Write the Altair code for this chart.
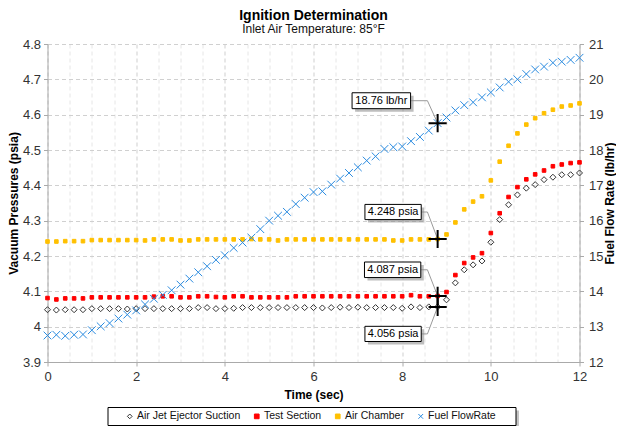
import altair as alt
import pandas as pd

# ---------------- data ----------------
time = [0.0, 0.2, 0.4, 0.6, 0.8, 1.0, 1.2, 1.4, 1.6, 1.8,
        2.0, 2.2, 2.4, 2.6, 2.8, 3.0, 3.2, 3.4, 3.6, 3.8,
        4.0, 4.2, 4.4, 4.6, 4.8, 5.0, 5.2, 5.4, 5.6, 5.8,
        6.0, 6.2, 6.4, 6.6, 6.8, 7.0, 7.2, 7.4, 7.6, 7.8,
        8.0, 8.2, 8.4, 8.6, 8.8, 9.0, 9.2, 9.4, 9.6, 9.8,
        10.0, 10.2, 10.4, 10.6, 10.8, 11.0, 11.2, 11.4, 11.6, 11.8, 12.0]

air_jet = [4.048, 4.047, 4.048, 4.048, 4.048, 4.051, 4.051, 4.051, 4.051, 4.050,
           4.051, 4.051, 4.051, 4.051, 4.051, 4.051, 4.051, 4.054, 4.054, 4.051,
           4.051, 4.052, 4.054, 4.054, 4.054, 4.054, 4.054, 4.054, 4.054, 4.054,
           4.054, 4.053, 4.054, 4.055, 4.054, 4.055, 4.054, 4.054, 4.054, 4.054,
           4.052, 4.056, 4.054, 4.056, 4.056, 4.076, 4.124, 4.161, 4.175, 4.186,
           4.239, 4.303, 4.345, 4.373, 4.392, 4.402, 4.416, 4.423, 4.430, 4.430, 4.435]

test_section = [4.081, 4.077, 4.080, 4.080, 4.080, 4.083, 4.083, 4.083, 4.083, 4.083,
                4.083, 4.083, 4.085, 4.086, 4.086, 4.083, 4.083, 4.086, 4.086, 4.084,
                4.083, 4.086, 4.086, 4.083, 4.083, 4.083, 4.083, 4.083, 4.086, 4.086,
                4.086, 4.086, 4.086, 4.086, 4.086, 4.086, 4.086, 4.086, 4.086, 4.086,
                4.086, 4.089, 4.086, 4.086, 4.087, 4.098, 4.146, 4.180, 4.196, 4.208,
                4.265, 4.321, 4.367, 4.395, 4.417, 4.431, 4.442, 4.454, 4.459, 4.463, 4.465]

air_chamber = [4.241, 4.241, 4.242, 4.242, 4.242, 4.245, 4.245, 4.245, 4.245, 4.245,
               4.245, 4.244, 4.247, 4.247, 4.247, 4.244, 4.244, 4.247, 4.247, 4.247,
               4.247, 4.247, 4.247, 4.248, 4.247, 4.247, 4.244, 4.247, 4.247, 4.247,
               4.247, 4.247, 4.247, 4.247, 4.247, 4.247, 4.247, 4.247, 4.247, 4.244,
               4.244, 4.247, 4.247, 4.247, 4.248, 4.261, 4.295, 4.332, 4.354, 4.369,
               4.414, 4.467, 4.512, 4.547, 4.572, 4.590, 4.604, 4.614, 4.623, 4.626, 4.632]

fuel_flow = [12.75, 12.77, 12.74, 12.77, 12.78, 12.90, 13.01, 13.10, 13.23, 13.34,
             13.46, 13.63, 13.79, 13.90, 14.03, 14.19, 14.36, 14.54, 14.71, 14.89,
             15.02, 15.23, 15.38, 15.52, 15.76, 16.00, 16.14, 16.25, 16.47, 16.65,
             16.81, 16.83, 17.02, 17.19, 17.35, 17.51, 17.70, 17.82, 18.03, 18.08,
             18.10, 18.25, 18.37, 18.55, 18.76, 18.92, 19.12, 19.27, 19.35, 19.49,
             19.63, 19.77, 19.93, 20.00, 20.15, 20.28, 20.36, 20.47, 20.50, 20.55, 20.61]

series_names = ["Air Jet Ejector Suction", "Test Section", "Air Chamber", "Fuel FlowRate"]

# callouts on the pressure axis
psi_labels = ["4.248 psia", "4.087 psia", "4.056 psia"]
psi_target_x = [8.8, 8.8, 8.8]
psi_target_y = [4.248, 4.087, 4.056]
psi_box_x0 = [7.16, 7.15, 7.16]
psi_box_x1 = [8.43, 8.42, 8.43]
psi_box_top = [4.346, 4.183, 4.001]
psi_box_bot = [4.303, 4.139, 3.958]

# callout on the fuel axis
fuel_labels = ["18.76 lb/hr"]
fuel_target_x = [8.8]
fuel_target_y = [18.76]
fuel_box_x0 = [6.87]
fuel_box_x1 = [8.19]
fuel_box_top = [19.62]
fuel_box_bot = [19.17]
leader_bend_x = 8.57

x_ticks = [0, 0.5, 1, 1.5, 2, 2.5, 3, 3.5, 4, 4.5, 5, 5.5, 6, 6.5, 7, 7.5, 8, 8.5, 9, 9.5, 10, 10.5, 11, 11.5, 12]
left_ticks = [3.9, 4.0, 4.1, 4.2, 4.3, 4.4, 4.5, 4.6, 4.7, 4.8]
right_ticks = [12, 13, 14, 15, 16, 17, 18, 19, 20, 21]

# ---------------- tables ----------------
series_values = [air_jet, test_section, air_chamber, fuel_flow]
frames = [pd.DataFrame({"time": time, "value": v, "series": n})
          for n, v in zip(series_names, series_values)]


def callout_tables(labels, tx, ty, bx0, bx1, btop, bbot):
    boxes = pd.DataFrame({"label": labels, "x0": bx0, "x1": bx1, "top": btop, "bot": bbot,
                          "tx": tx, "ty": ty})
    boxes["cx"] = (boxes["x0"] + boxes["x1"]) / 2
    boxes["cy"] = (boxes["top"] + boxes["bot"]) / 2
    rows = []
    for i, r in boxes.iterrows():
        rows.append({"id": i, "o": 0, "x": r["x1"], "y": r["cy"]})
        rows.append({"id": i, "o": 1, "x": leader_bend_x, "y": r["cy"]})
        rows.append({"id": i, "o": 2, "x": r["tx"], "y": r["ty"]})
    return boxes, pd.DataFrame(rows)


psi_boxes, psi_lines = callout_tables(psi_labels, psi_target_x, psi_target_y,
                                      psi_box_x0, psi_box_x1, psi_box_top, psi_box_bot)
fuel_boxes, fuel_lines = callout_tables(fuel_labels, fuel_target_x, fuel_target_y,
                                        fuel_box_x0, fuel_box_x1, fuel_box_top, fuel_box_bot)

# ---------------- scales / axes ----------------
FONT = "Liberation Sans"
x_scale = alt.Scale(domain=[0, 12], nice=False, zero=False)
x_axis = alt.Axis(
    values=x_ticks, format="~g", labelExpr="datum.value % 2 == 0 ? datum.label : ''",
    title="Time (sec)", titleFontSize=12, titleFontWeight="bold", titleColor="#000",
    titlePadding=6, labelFontSize=13, labelColor="#333", labelPadding=4,
    labelFlush=False, labelOverlap=False, tickSize=4,
    tickColor={"condition": {"test": "datum.value % 2 == 0", "value": "#aaaaaa"}, "value": "transparent"},
    grid=True, gridDash=[4, 3],
    gridColor={"condition": {"test": "datum.value % 2 == 0", "value": "#cfcfcf"}, "value": "#e6e6e6"},
    domainColor="#aaaaaa",
)
left_scale = alt.Scale(domain=[3.9, 4.8], nice=False, zero=False)
left_axis = alt.Axis(
    values=left_ticks, format=".1~f", title="Vacuum Pressures (psia)",
    titleFontSize=12, titleFontWeight="bold", titleColor="#000",
    titleX=-27.5, titleY=159, titleAngle=270, titleBaseline="bottom", titleAlign="center",
    labelFontSize=13, labelColor="#333", labelPadding=3, labelFlush=False, tickSize=4,
    tickColor="#aaaaaa", domainColor="#aaaaaa",
    grid=True, gridDash=[4, 3], gridColor="#d0d0d0",
)
right_scale = alt.Scale(domain=[12, 21], nice=False, zero=False)
right_axis = alt.Axis(
    orient="right", values=right_ticks, title="Fuel Flow Rate (lb/hr)",
    titleFontSize=12, titleFontWeight="bold", titleColor="#000",
    titleX=25, titleY=159, titleAngle=270, titleBaseline="top", titleAlign="center",
    labelFontSize=13, labelColor="#333", labelPadding=5, labelFlush=False, tickSize=4,
    tickColor="#aaaaaa", domainColor="#aaaaaa", grid=False,
)


def X(field):
    return alt.X(field, type="quantitative", scale=x_scale, axis=x_axis)


def YL(field):
    return alt.Y(field, type="quantitative", scale=left_scale, axis=left_axis)


def YR(field):
    return alt.Y(field, type="quantitative", scale=right_scale, axis=right_axis)


legend = alt.Legend(
    title=None, orient="none", legendX=74, legendY=364, direction="horizontal", zindex=2,
    padding=3, symbolSize=22,
    labelFontSize=10.5, labelColor="#111", labelFont=FONT, columnPadding=11, labelOffset=2,
    symbolStrokeWidth=1,
)
X_PATH = "M-1,-1L1,1M-1,1L1,-1"
PLUS_PATH = "M-1,0L1,0M0,-1L0,1"
shape_enc = alt.Shape("series:N", scale=alt.Scale(domain=series_names,
                      range=["diamond", "square", "square", X_PATH]), legend=legend)
fill_enc = alt.Fill("series:N", scale=alt.Scale(domain=series_names,
                    range=["transparent", "#ff0000", "#ffc000", "transparent"]), legend=legend)
stroke_enc = alt.Stroke("series:N", scale=alt.Scale(domain=series_names,
                        range=["#333333", "#ff0000", "#ffc000", "#2a8be0"]), legend=legend)
marker_sizes = [36, 13, 13, 60]
marker_strokes = [1, 1, 1, 1]


def series_layer(i, Y):
    return alt.Chart(frames[i]).mark_point(size=marker_sizes[i], strokeWidth=marker_strokes[i],
                                           opacity=1).encode(
        x=X("time"), y=Y("value"), shape=shape_enc, fill=fill_enc, stroke=stroke_enc)


def callout_layers(boxes, lines, Y):
    shadow = alt.Chart(boxes).mark_rect(color="#888888", opacity=0.55, xOffset=3, x2Offset=3,
                                        yOffset=3, y2Offset=3).encode(
        x=X("x0"), x2="x1", y=Y("top"), y2="bot")
    box = alt.Chart(boxes).mark_rect(fill="#ffffff", stroke="#000000", strokeWidth=1).encode(
        x=X("x0"), x2="x1", y=Y("top"), y2="bot")
    text = alt.Chart(boxes).mark_text(fontSize=11, font=FONT, color="#000",
                                      align="center", baseline="middle").encode(
        x=X("cx"), y=Y("cy"), text="label:N")
    leader = alt.Chart(lines).mark_line(color="#9a9a9a", strokeWidth=1).encode(
        x=X("x"), y=Y("y"), detail="id:N", order="o:Q")
    plus = alt.Chart(boxes).mark_point(shape=PLUS_PATH, size=330, stroke="#000", strokeWidth=2,
                                       filled=False, opacity=1).encode(
        x=X("tx"), y=Y("ty"))
    return [leader, shadow, box, text, plus]


legend_frame = pd.DataFrame({"d": [0]})
legend_shadow = alt.Chart(legend_frame).mark_rect(color="#8a8a8a", opacity=0.5).encode(
    x=alt.value(63.5), x2=alt.value(471.5), y=alt.value(366.5), y2=alt.value(384.5),
)
legend_box = alt.Chart(legend_frame).mark_rect(fill="#ffffff", stroke="#000000", strokeWidth=1).encode(
    x=alt.value(60.5), x2=alt.value(468.5), y=alt.value(363.5), y2=alt.value(381.5),
)

left_layer = alt.layer(series_layer(0, YL), series_layer(1, YL), series_layer(2, YL),
                       legend_shadow, legend_box, *callout_layers(psi_boxes, psi_lines, YL))
right_layer = alt.layer(series_layer(3, YR), *callout_layers(fuel_boxes, fuel_lines, YR))

chart = alt.layer(left_layer, right_layer).resolve_scale(y="independent").properties(
    width=532, height=318,
    autosize="none",
    padding={"left": 39.5, "top": 36, "right": 36.5, "bottom": 64},
    title=alt.Title("Ignition Determination", subtitle="Inlet Air Temperature: 85°F",
                    fontSize=14, fontWeight="bold", subtitleFontSize=12, color="#000",
                    subtitleColor="#111", anchor="middle", offset=3, subtitlePadding=1,
                    font=FONT, subtitleFont=FONT),
).configure(font=FONT).configure_view(stroke=None)

chart.save("out.html", embed_options={"renderer": "svg", "actions": False})
